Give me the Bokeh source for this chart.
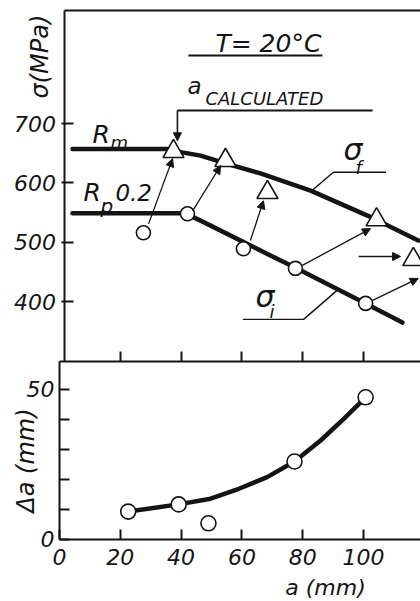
import math
from bokeh.plotting import figure
from bokeh.models import (Range1d, LinearAxis, FixedTicker, Arrow, NormalHead,
                          ColumnDataSource, Label)
from bokeh.embed import file_html
from bokeh.resources import INLINE

# ---------------- data ----------------
# upper panel: stress sigma (MPa) against crack length a (mm)
tri_a = [37.5, 54.6, 68.4, 104.3, 116.4]          # triangles (sigma_f points)
tri_sigma = [653, 638, 584, 538, 471]
circ_a = [27.6, 42.1, 60.5, 77.6, 100.7]          # circles (sigma_i points)
circ_sigma = [516, 548, 489, 456, 397]

rm_a = [4.3, 37.5]                                # R_m level
rm_sigma = [657, 657]
rp_a = [4.3, 42.1]                                # R_p0.2 level
rp_sigma = [549, 549]

sf_a = [37.5, 46.4, 56.0, 66.1, 82.6, 101.3, 118.0]   # sigma_f curve
sf_sigma = [654, 646, 631, 616, 587, 545, 503]
si_a = [42.1, 46.4, 66.1, 77.6, 100.7, 112.8]          # sigma_i curve
si_sigma = [547, 536.5, 486, 457, 396.6, 364.6]

# arrows from circles towards triangles (start / tip)
arr_a0 = [29.3, 43.8, 62.8, 79.9, 98.4, 103.0]
arr_s0 = [531, 553, 503, 461, 476, 402]
arr_a1 = [37.2, 53.0, 67.1, 102.3, 112.2, 118.0]
arr_s1 = [641, 629, 570, 523, 476, 439]

# lower panel: delta a (mm) against a (mm)
da_a = [22.6, 39.2, 49.0, 77.3, 100.7]
da_val = [9.3, 11.7, 5.4, 26.0, 47.4]
da_curve_a = [22.7, 39.1, 49.7, 59.0, 68.3, 77.3, 85.9, 93.5, 100.7]
da_curve_val = [9.3, 11.7, 13.6, 16.9, 20.8, 26.0, 33.0, 40.2, 47.4]

x_ticks = [0, 20, 40, 60, 80, 100]
sigma_ticks = [400, 500, 600, 700]
da_major = [0, 50]
da_minor = [10, 20, 30, 40]

# annotation geometry
calc_line_a = [103.0, 38.8]
calc_line_s = [722, 722]
t_line_a = [42.4, 86.5]
t_line_s = [814.8, 814.8]
sf_lead_a = [107.2, 90.1, 82.6]
sf_lead_s = [618, 618, 585]
si_lead_a = [60.5, 80.3, 91.8]
si_lead_s = [370, 370, 421]

A_MAX = 118.75          # right edge of the drawing (mm)
DA_TOP = 59.33          # top of the lower panel (mm)
S_BOT, S_TOP = 298.9, 890.6   # sigma extent of the upper panel (MPa)

INK = "#141414"
FONT = "DejaVu Sans"

# the frame covers the whole figure; axes sit at fixed locations inside it
p = figure(width=420, height=601, output_backend="svg", toolbar_location=None,
           x_range=Range1d(-19.4, A_MAX), y_range=Range1d(-20.67, 179.67),
           x_axis_location=None, y_axis_location=None,
           min_border_left=0, min_border_right=0, min_border_top=0,
           min_border_bottom=0, background_fill_color="white",
           border_fill_color="white", outline_line_color=None)
p.extra_y_ranges = {"s": Range1d(-105.5, 907.5)}
p.grid.visible = False
p.xgrid.grid_line_color = None
p.ygrid.grid_line_color = None


def style_axis(ax, size="22px"):
    ax.axis_line_width = 2
    ax.axis_line_color = INK
    ax.major_tick_line_width = 2
    ax.major_tick_line_color = INK
    ax.minor_tick_line_width = 2
    ax.minor_tick_line_color = INK
    ax.major_label_text_font = FONT
    ax.major_label_text_font_style = "italic"
    ax.major_label_text_font_size = size
    ax.major_label_text_color = INK


ax_x = LinearAxis(fixed_location=0, bounds=(0, A_MAX), ticker=FixedTicker(ticks=x_ticks),
                  major_tick_in=10, major_tick_out=0, major_label_standoff=10)
style_axis(ax_x)
p.add_layout(ax_x, "below")

ax_div = LinearAxis(fixed_location=DA_TOP, bounds=(0, A_MAX),
                    ticker=FixedTicker(ticks=x_ticks[1:]),
                    major_tick_in=10, major_tick_out=0)
style_axis(ax_div, "0px")
ax_div.major_label_text_color = None
p.add_layout(ax_div, "below")

ax_top = LinearAxis(y_range_name="s", fixed_location=S_TOP, bounds=(1.5, A_MAX),
                    ticker=FixedTicker(ticks=[]), major_tick_in=0, major_tick_out=0)
style_axis(ax_top, "0px")
ax_top.major_label_text_color = None
p.add_layout(ax_top, "above")

ax_da = LinearAxis(fixed_location=0, bounds=(0, DA_TOP),
                   ticker=FixedTicker(ticks=da_major, minor_ticks=da_minor),
                   major_tick_in=10, major_tick_out=0, minor_tick_in=10,
                   minor_tick_out=0, major_label_standoff=5)
style_axis(ax_da)
p.add_layout(ax_da, "left")

ax_s = LinearAxis(y_range_name="s", fixed_location=1.5, bounds=(S_BOT, S_TOP),
                  ticker=FixedTicker(ticks=sigma_ticks),
                  major_tick_in=9, major_tick_out=3, major_label_standoff=5)
style_axis(ax_s)
p.add_layout(ax_s, "left")

thick = dict(line_color=INK, line_width=4.5, line_cap="round", line_join="round")
thin = dict(line_color=INK, line_width=1.4, line_cap="round", line_join="round")

p.line(rm_a, rm_sigma, y_range_name="s", **thick)
p.line(rp_a, rp_sigma, y_range_name="s", **thick)
p.line(sf_a, sf_sigma, y_range_name="s", **thick)
p.line(si_a, si_sigma, y_range_name="s", **thick)
p.line(da_curve_a, da_curve_val, **thick)

p.line(calc_line_a, calc_line_s, y_range_name="s", line_color=INK, line_width=2)
p.line(t_line_a, t_line_s, y_range_name="s", line_color=INK, line_width=2.2)
p.line(sf_lead_a, sf_lead_s, y_range_name="s", **thin)
p.line(si_lead_a, si_lead_s, y_range_name="s", **thin)

arrows = ColumnDataSource(dict(x0=arr_a0, y0=arr_s0, x1=arr_a1, y1=arr_s1))
p.add_layout(Arrow(source=arrows, x_start="x0", y_start="y0", x_end="x1", y_end="y1",
                   y_range_name="s", line_color=INK, line_width=1.3,
                   end=NormalHead(size=8, fill_color=INK, line_color=INK, line_width=1)))
p.add_layout(Arrow(x_start=38.8, y_start=722, x_end=38.8, y_end=671,
                   y_range_name="s", line_color=INK, line_width=1.6,
                   end=NormalHead(size=8, fill_color=INK, line_color=INK, line_width=1)))

p.scatter(tri_a, tri_sigma, marker="triangle", size=21, fill_color="white",
          line_color=INK, line_width=1.6, y_range_name="s")
p.scatter(circ_a, circ_sigma, marker="circle", size=14, fill_color="white",
          line_color=INK, line_width=1.6, y_range_name="s")
p.scatter(da_a, da_val, marker="circle", size=15, fill_color="white",
          line_color=INK, line_width=1.6)


def txt(x, y, s, size, rng="s", align="left", baseline="middle", angle=0.0):
    lab = Label(x=x, y=y, text=s, text_font=FONT, text_font_style="italic",
                text_font_size=f"{size}px", text_color=INK, text_align=align,
                text_baseline=baseline, angle=angle)
    if rng != "default":
        lab.y_range_name = rng
    p.add_layout(lab)


txt(51.3, 835.8, "T= 20°C", 25)
txt(42.1, 763.7, "a", 23)
txt(48.0, 743.1, "CALCULATED", 18)
txt(10.9, 681.6, "R", 25)
txt(16.8, 668.0, "m", 18)
txt(7.9, 584.7, "R", 25)
txt(13.5, 560.3, "p", 20)
txt(18.4, 584.7, "0.2", 23)
txt(93.4, 656.3, "σ", 30)
txt(97.4, 626.7, "f", 18)
txt(64.5, 408.9, "σ", 30)
txt(69.1, 384.0, "i", 18)
txt(-6.25, 813, "σ(MPa)", 24, align="center", angle=math.pi / 2)
txt(-11.0, 26.3, "Δa (mm)", 24, rng="default", align="center", angle=math.pi / 2)
txt(87.5, -16.0, "a (mm)", 22, rng="default", align="center")

open("out.html", "w").write(file_html(p, INLINE))
